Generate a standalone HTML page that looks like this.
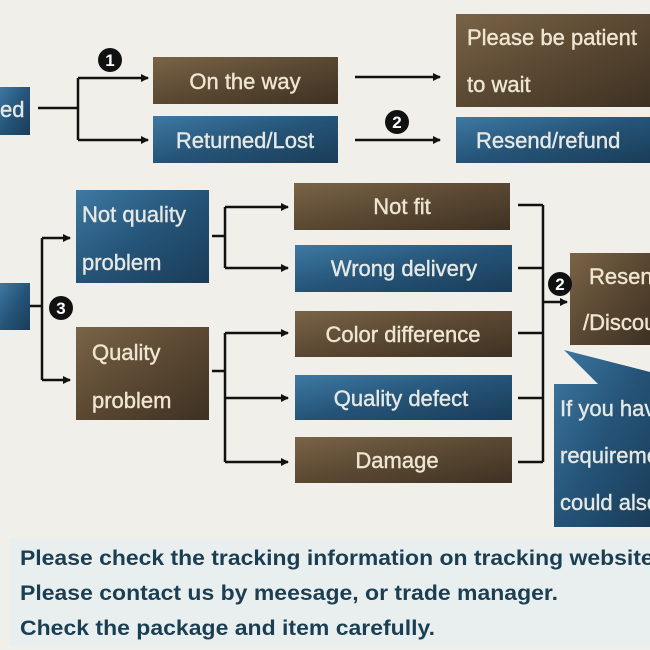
<!DOCTYPE html>
<html><head><meta charset="utf-8"><style>
html,body{margin:0;padding:0;background:#f1efe9;width:650px;height:650px;overflow:hidden}
svg text{font-family:"Liberation Sans",sans-serif}
</style></head><body>
<svg width="650" height="650" viewBox="0 0 650 650" xmlns="http://www.w3.org/2000/svg">
<defs>
<linearGradient id="br" x1="0" y1="0" x2="1" y2="1"><stop offset="0" stop-color="#7a6447"/><stop offset="0.5" stop-color="#5a4832"/><stop offset="1" stop-color="#3e3122"/></linearGradient>
<linearGradient id="bl" x1="0" y1="0" x2="1" y2="1"><stop offset="0" stop-color="#3e79a3"/><stop offset="0.5" stop-color="#255478"/><stop offset="1" stop-color="#1a3c58"/></linearGradient>
<marker id="ar" markerWidth="8" markerHeight="8" refX="7" refY="4" orient="auto" markerUnits="userSpaceOnUse"><path d="M0,0 L8,4 L0,8 z" fill="#111"/></marker>
</defs>
<rect x="0" y="0" width="650" height="650" fill="#f1efe9"/>
<rect x="10" y="538" width="640" height="108" fill="#e9eeef"/>
<g stroke="#111" stroke-width="2.5" fill="none">
<path d="M38 108 H78 M78 78 V140"/>
<path d="M78 78 H148" marker-end="url(#ar)"/>
<path d="M78 140 H148" marker-end="url(#ar)"/>
<path d="M355 77 H440" marker-end="url(#ar)"/>
<path d="M355 140 H440" marker-end="url(#ar)"/>
<path d="M30 306 H42 M42 238 V380"/>
<path d="M42 238 H70" marker-end="url(#ar)"/>
<path d="M42 380 H70" marker-end="url(#ar)"/>
<path d="M212 236 H225 M225 207 V268"/>
<path d="M225 207 H288" marker-end="url(#ar)"/>
<path d="M225 268 H288" marker-end="url(#ar)"/>
<path d="M212 371 H225 M225 333 V462"/>
<path d="M225 333 H288" marker-end="url(#ar)"/>
<path d="M225 398 H288" marker-end="url(#ar)"/>
<path d="M225 462 H288" marker-end="url(#ar)"/>
<path d="M518 205 H543 M518 268 H543 M518 333 H543 M518 398 H543 M518 462 H543 M543 205 V462"/>
<path d="M543 302 H567" marker-end="url(#ar)"/>
</g>
<rect x="0" y="87" width="30" height="48" fill="url(#bl)"/>
<rect x="153" y="57" width="185" height="47" fill="url(#br)"/>
<rect x="153" y="116" width="185" height="47" fill="url(#bl)"/>
<rect x="456" y="14" width="194" height="93" fill="url(#br)"/>
<rect x="456" y="117" width="194" height="46" fill="url(#bl)"/>
<rect x="76" y="190" width="133" height="93" fill="url(#bl)"/>
<rect x="294" y="183" width="216" height="47" fill="url(#br)"/>
<rect x="295" y="245" width="217" height="47" fill="url(#bl)"/>
<rect x="0" y="283" width="30" height="47" fill="url(#bl)"/>
<rect x="76" y="327" width="133" height="93" fill="url(#br)"/>
<rect x="295" y="311" width="217" height="46" fill="url(#br)"/>
<rect x="295" y="375" width="217" height="45" fill="url(#bl)"/>
<rect x="295" y="437" width="217" height="46" fill="url(#br)"/>
<rect x="570" y="253" width="80" height="92" fill="url(#br)"/>
<path d="M564 350 L650 372 L650 527 L554 527 L554 384 L598 384 Z" fill="url(#bl)"/>
<g fill="#111">
<circle cx="110" cy="60" r="12"/><circle cx="397" cy="122" r="12"/>
<circle cx="61" cy="308" r="12"/><circle cx="560" cy="284" r="12"/>
</g>
<g fill="#fff" font-weight="bold" font-size="17" text-anchor="middle">
<text x="110" y="66">1</text><text x="397" y="128">2</text>
<text x="61" y="314">3</text><text x="560" y="290">2</text>
</g>
<g font-size="22" fill="#efe6d2" stroke="#efe6d2" stroke-width="0.4">
<text x="0" y="117" fill="#dfe9f0">ed</text>
<text x="245" y="89" text-anchor="middle">On the way</text>
<text x="245" y="148" text-anchor="middle" fill="#dfe9f0">Returned/Lost</text>
<text x="467" y="45">Please be patient</text>
<text x="467" y="92">to wait</text>
<text x="476" y="148" fill="#dfe9f0">Resend/refund</text>
<text x="82" y="222" fill="#dfe9f0">Not quality</text>
<text x="82" y="270" fill="#dfe9f0">problem</text>
<text x="402" y="214" text-anchor="middle">Not fit</text>
<text x="404" y="276" text-anchor="middle" fill="#dfe9f0">Wrong delivery</text>
<text x="92" y="360">Quality</text>
<text x="92" y="408">problem</text>
<text x="403" y="342" text-anchor="middle">Color difference</text>
<text x="401" y="406" text-anchor="middle" fill="#dfe9f0">Quality defect</text>
<text x="397" y="468" text-anchor="middle">Damage</text>
<text x="589" y="284">Resend</text>
<text x="583" y="330">/Discount</text>
<text x="560" y="416" fill="#dfe9f0">If you have</text>
<text x="560" y="463" fill="#dfe9f0">requirement</text>
<text x="560" y="510" fill="#dfe9f0">could also</text>
</g>
<g font-weight="bold" font-size="21" fill="#1b3f52">
<text x="20" y="565" textLength="640" lengthAdjust="spacingAndGlyphs">Please check the tracking information on tracking website.</text>
<text x="20" y="600" textLength="538" lengthAdjust="spacingAndGlyphs">Please contact us by meesage, or trade manager.</text>
<text x="20" y="635" textLength="415" lengthAdjust="spacingAndGlyphs">Check the package and item carefully.</text>
</g>
</svg>
</body></html>
